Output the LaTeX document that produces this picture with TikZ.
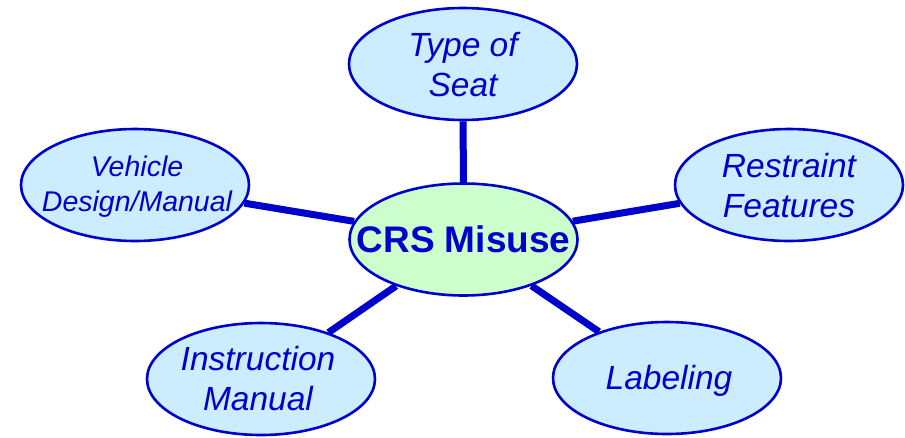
\documentclass[tikz,border=0pt]{standalone}
\usepackage{fontspec}
\setmainfont{Liberation Sans}
\usetikzlibrary{shapes.geometric}
\definecolor{edgeblue}{RGB}{0,0,204}
\definecolor{lightblue}{RGB}{204,236,255}
\definecolor{lightgreen}{RGB}{204,255,204}
\tikzset{
  bubble/.style={ellipse, draw=edgeblue, line width=2.6pt, fill=lightblue,
    minimum width=228pt, minimum height=112pt, inner sep=0pt},
  hub/.style={bubble, fill=lightgreen},
  txt/.style={align=center, text=edgeblue, inner sep=0pt,
    font=\fontsize{33.5}{40}\selectfont\itshape},
  smalltxt/.style={txt, font=\fontsize{28.5}{35}\selectfont\itshape},
  hubtxt/.style={txt, font=\fontsize{37}{44}\selectfont\bfseries},
  link/.style={draw=edgeblue, line width=7pt}
}
\begin{document}
\begin{tikzpicture}[x=1pt,y=-1pt]
\useasboundingbox (0,0) rectangle (905,437);
\node[hub] (crs) at (463.5,239.5) {};
\node[bubble] (seat) at (463,64) {};
\node[bubble] (veh) at (135,185) {};
\node[bubble] (rest) at (789,185) {};
\node[bubble] (instr) at (261,379) {};
\node[bubble] (lab) at (667,378) {};
\node[hubtxt] (crst) at (crs.center) {CRS Misuse};
\node[txt] (seatt) at (463,65) {Type of\\Seat};
\node[smalltxt] (veht) at (137,187) {Vehicle\\Design/Manual};
\node[txt] (restt) at (789,186) {Restraint\\Features};
\node[txt] (instrt) at (258,379) {Instruction\\Manual};
\node[txt] (labt) at (669,381) {Labeling};
\draw[link] (seat) -- (crs);
\draw[link] (veh) -- (crs);
\draw[link] (rest) -- (crs);
\draw[link] (instr) -- (crs);
\draw[link] (lab) -- (crs);
\end{tikzpicture}
\end{document}
